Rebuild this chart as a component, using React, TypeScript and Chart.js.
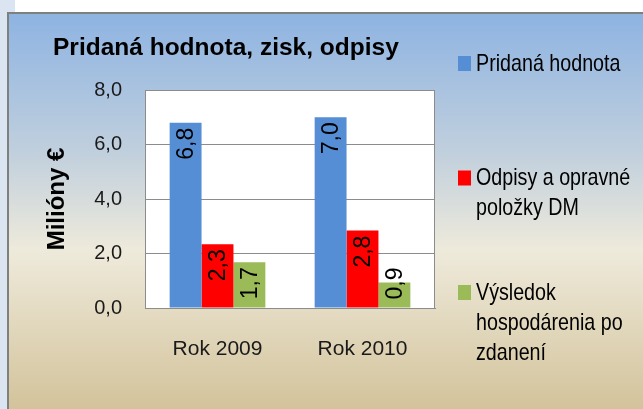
import React, { useEffect, useRef } from 'react';
import { Chart, registerables } from 'chart.js';

Chart.register(...registerables);

// ---- data ----
const categories = ['Rok 2009', 'Rok 2010'];
const seriesNames = ['Pridaná hodnota', 'Odpisy a opravné položky DM', 'Výsledok hospodárenia po zdanení'];
const pridanaHodnota = [6.8, 7.0];
const odpisy = [2.34, 2.84];
const vysledok = [1.68, 0.94];
const seriesColors = ['#558ED5', '#FF0000', '#9BBB59'];
const yTicks = [0, 2, 4, 6, 8];
const yAxisTitle = 'Milióny €';
const chartTitle = 'Pridaná hodnota, zisk, odpisy';

const SANS = "'Liberation Sans', Arial, sans-serif";
const NARROW_SCALE = 0.82;

const fmt = (v: number) => Number(v).toFixed(1).replace('.', ',');

const backgroundPlugin = {
  id: 'bg',
  beforeDraw(chart: any) {
    const { ctx, width, height, chartArea } = chart;
    ctx.save();
    ctx.fillStyle = '#ffffff';
    ctx.fillRect(0, 0, width, height);
    ctx.fillStyle = '#dbe5f1';
    ctx.fillRect(0, 0, 15, height);
    const g = ctx.createLinearGradient(0, 12, 0, height);
    g.addColorStop(0, '#8db3e2');
    g.addColorStop(0.35, '#c0cfdd');
    g.addColorStop(0.6, '#eeeadb');
    g.addColorStop(1, '#d3c39b');
    ctx.fillStyle = g;
    ctx.fillRect(7, 12, width - 7, height - 12);
    ctx.fillStyle = '#7f7f7f';
    ctx.fillRect(7, 12, 2, height - 12);
    ctx.fillRect(7, 12, width - 7, 2);
    // plot area
    ctx.fillStyle = '#ffffff';
    ctx.fillRect(chartArea.left, chartArea.top, chartArea.right - chartArea.left, chartArea.bottom - chartArea.top);
    // title
    ctx.fillStyle = '#000000';
    ctx.font = `bold 24.5px ${SANS}`;
    ctx.textAlign = 'left';
    ctx.textBaseline = 'alphabetic';
    ctx.fillText(chartTitle, 53, 55);
    ctx.restore();
  },
  beforeDatasetsDraw(chart: any) {
    const { ctx, chartArea } = chart;
    ctx.save();
    ctx.strokeStyle = '#8c8c8c';
    ctx.lineWidth = 1;
    ctx.strokeRect(chartArea.left + 0.5, chartArea.top + 0.5, chartArea.right - chartArea.left - 1, chartArea.bottom - chartArea.top);
    ctx.restore();
  },
};

const valueLabelPlugin = {
  id: 'valueLabels',
  afterDatasetsDraw(chart: any) {
    const { ctx } = chart;
    ctx.save();
    ctx.font = `23px ${SANS}`;
    ctx.fillStyle = '#000000';
    ctx.textAlign = 'right';
    ctx.textBaseline = 'middle';
    chart.data.datasets.forEach((ds: any, di: number) => {
      const meta = chart.getDatasetMeta(di);
      meta.data.forEach((bar: any, i: number) => {
        const text = fmt(ds.data[i]);
        const w = ctx.measureText(text).width;
        const top = Math.min(bar.y + 5, bar.base - 8 - w);
        ctx.save();
        ctx.translate(bar.x + 1, top);
        ctx.rotate(-Math.PI / 2);
        ctx.fillText(text, 0, 0);
        ctx.restore();
      });
    });
    ctx.restore();
  },
};

const legendPlugin = {
  id: 'sideLegend',
  afterDraw(chart: any) {
    const { ctx } = chart;
    ctx.save();
    ctx.font = `24px ${SANS}`;
    ctx.textAlign = 'left';
    ctx.textBaseline = 'middle';
    const maxW = 160;
    const lineH = 30;
    const tw = (t: string) => ctx.measureText(t).width * NARROW_SCALE;
    chart.data.datasets.forEach((ds: any, i: number) => {
      const words = String(ds.label).split(' ');
      const lines: string[] = [];
      let cur = '';
      words.forEach((w) => {
        const t = cur ? cur + ' ' + w : w;
        if (cur && tw(t) > maxW) {
          lines.push(cur);
          cur = w;
        } else cur = t;
      });
      if (cur) lines.push(cur);
      const slotCenter = 63 + i * 129.5;
      const startY = slotCenter - ((lines.length - 1) * lineH) / 2;
      ctx.fillStyle = ds.backgroundColor;
      ctx.fillRect(458, startY - 7, 13, 15);
      ctx.fillStyle = '#000000';
      lines.forEach((ln, k) => {
        ctx.save();
        ctx.translate(476, startY + k * lineH + 1);
        ctx.scale(NARROW_SCALE, 1);
        ctx.fillText(ln, 0, 0);
        ctx.restore();
      });
    });
    ctx.restore();
  },
};

export default function App() {
  const ref = useRef<HTMLCanvasElement | null>(null);
  useEffect(() => {
    if (!ref.current) return;
    const seriesValues = [pridanaHodnota, odpisy, vysledok];
    const chart = new Chart(ref.current, {
      type: 'bar',
      data: {
        labels: categories,
        datasets: seriesValues.map((d, i) => ({
          label: seriesNames[i],
          data: d,
          backgroundColor: seriesColors[i],
          borderWidth: 0,
          categoryPercentage: 0.66,
          barPercentage: 1,
        })),
      },
      options: {
        responsive: false,
        animation: false,
        devicePixelRatio: 1,
        layout: { padding: { left: 0, top: 90, right: 208, bottom: 0 } },
        plugins: {
          legend: { display: false },
          tooltip: { enabled: false },
          title: { display: false },
        },
        scales: {
          x: {
            grid: { display: false, drawTicks: false },
            border: { display: true, color: '#8c8c8c' },
            ticks: { font: { family: SANS, size: 21 }, color: '#1a1a1a', padding: 29 },
            afterFit: (s: any) => { s.height = 101; },
          },
          y: {
            min: 0,
            max: 8,
            afterBuildTicks: (s: any) => { s.ticks = yTicks.map((v) => ({ value: v })); },
            grid: { color: '#8c8c8c', drawTicks: false },
            border: { display: true, color: '#8c8c8c' },
            ticks: {
              padding: 23,
              font: { family: SANS, size: 20 },
              color: '#1a1a1a',
              callback: (v: any) => fmt(v),
            },
            title: {
              display: true,
              text: yAxisTitle,
              color: '#000000',
              font: { family: SANS, size: 24, weight: 'bold' },
              padding: { top: 43, bottom: 0 },
            },
            afterFit: (s: any) => { s.width = 145; },
          },
        },
      } as any,
      plugins: [backgroundPlugin, valueLabelPlugin, legendPlugin],
    });
    return () => chart.destroy();
  }, []);
  return (
    <div style={{ position: 'fixed', left: 0, top: 0, width: 643, height: 409 }}>
      <canvas ref={ref} width={643} height={409} style={{ display: 'block', width: 643, height: 409 }} />
    </div>
  );
}
